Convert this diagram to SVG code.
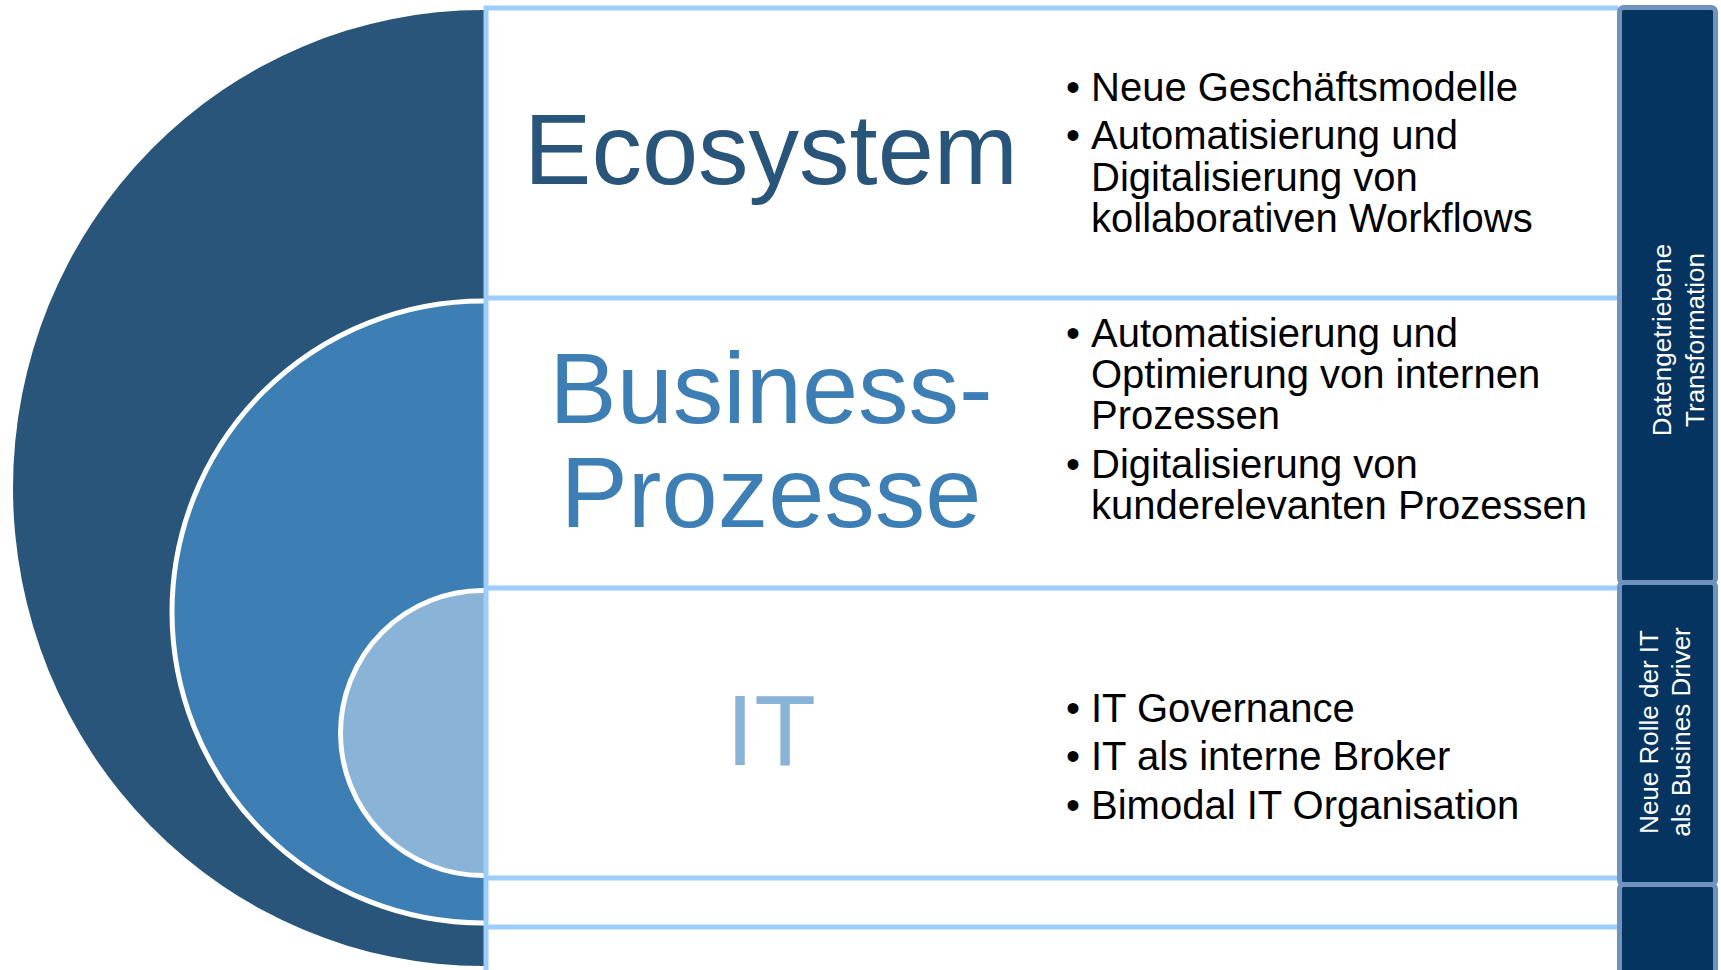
<svg xmlns="http://www.w3.org/2000/svg" width="1721" height="970" viewBox="0 0 1721 970">
<defs>
<style>
.t{font-family:"Liberation Sans",Arial,sans-serif}
.big{font-size:101px;text-anchor:middle}
.b{font-size:40px;fill:#000}
.side{font-size:26px;fill:#fff;text-anchor:middle}
.hl{stroke:#9ccdfd;stroke-width:5;fill:none}
.sb{fill:#063461;stroke:#6f93bd;stroke-width:5}
</style>
<clipPath id="leftclip"><rect x="0" y="0" width="485" height="970"/></clipPath>
</defs>
<rect width="1721" height="970" fill="#fff"/>
<g id="circles" clip-path="url(#leftclip)">
<ellipse id="ring-ecosystem" cx="483" cy="488" rx="470" ry="478" fill="#285579"/>
<circle id="ring-business" cx="483" cy="612" r="311" fill="#3d7eb5" stroke="#fff" stroke-width="5"/>
<circle id="ring-it" cx="483" cy="733" r="142.5" fill="#8ab4d7" stroke="#fff" stroke-width="5"/>
</g>
<g id="connectors">
<line class="hl" x1="486" y1="6" x2="486" y2="970"/>
<line class="hl" x1="484" y1="8" x2="1618" y2="8"/>
<line class="hl" x1="484" y1="298" x2="1618" y2="298"/>
<line class="hl" x1="484" y1="588" x2="1618" y2="588"/>
<line class="hl" x1="484" y1="878" x2="1618" y2="878"/>
<line class="hl" x1="484" y1="927" x2="1618" y2="927"/>
</g>
<g id="ecosystem">
<text class="t big" x="771" y="184" fill="#285579">Ecosystem</text>
<text class="t b" x="1066" y="101">•</text>
<text class="t b" x="1091" y="101">Neue Geschäftsmodelle</text>
<text class="t b" x="1066" y="149">•</text>
<text class="t b" x="1091" y="149">Automatisierung und</text>
<text class="t b" x="1091" y="191">Digitalisierung von</text>
<text class="t b" x="1091" y="232">kollaborativen Workflows</text>
</g>
<g id="business">
<text class="t big" x="771" y="423" fill="#3d7eb5">Business-</text>
<text class="t big" x="771" y="527" fill="#3d7eb5">Prozesse</text>
<text class="t b" x="1066" y="347">•</text>
<text class="t b" x="1091" y="347">Automatisierung und</text>
<text class="t b" x="1091" y="388">Optimierung von internen</text>
<text class="t b" x="1091" y="429">Prozessen</text>
<text class="t b" x="1066" y="478">•</text>
<text class="t b" x="1091" y="478">Digitalisierung von</text>
<text class="t b" x="1091" y="519">kunderelevanten Prozessen</text>
</g>
<g id="it">
<text class="t big" x="771" y="765" fill="#8ab4d7">IT</text>
<text class="t b" x="1066" y="722">•</text>
<text class="t b" x="1091" y="722">IT Governance</text>
<text class="t b" x="1066" y="770">•</text>
<text class="t b" x="1091" y="770">IT als interne Broker</text>
<text class="t b" x="1066" y="819">•</text>
<text class="t b" x="1091" y="819">Bimodal IT Organisation</text>
</g>
<g id="sidebar-transformation">
<rect class="sb" x="1619.5" y="7.5" width="96" height="575" rx="4"/>
<text class="t side" transform="translate(1671,340) rotate(-90)">Datengetriebene</text>
<text class="t side" transform="translate(1704,340) rotate(-90)">Transformation</text>
</g>
<g id="sidebar-it-role">
<rect class="sb" x="1619.5" y="582.5" width="96" height="302" rx="4"/>
<text class="t side" transform="translate(1658,732) rotate(-90)">Neue Rolle der IT</text>
<text class="t side" transform="translate(1690,732) rotate(-90)">als Busines Driver</text>
</g>
<g id="sidebar-bottom">
<rect class="sb" x="1619.5" y="884.5" width="96" height="100" rx="4"/>
</g>
</svg>
